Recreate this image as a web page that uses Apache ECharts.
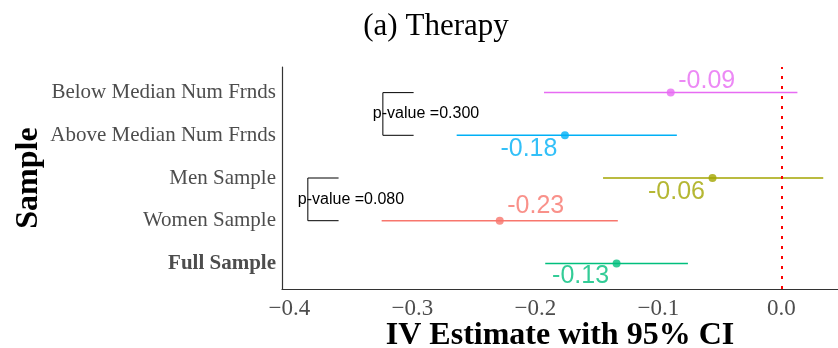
<!DOCTYPE html>
<html>
<head>
<meta charset="utf-8">
<script src="https://cdn.jsdelivr.net/npm/echarts@6/dist/echarts.min.js"></script>
<style>
  html, body { margin: 0; padding: 0; background: #fff; }
  #chart { width: 838px; height: 348px; }
</style>
</head>
<body>
<div id="chart"></div>
<script>
// samples listed bottom to top
const samples = ["Full Sample", "Women Sample", "Men Sample", "Above Median Num Frnds", "Below Median Num Frnds"];
const estimates = [-0.134, -0.229, -0.056, -0.176, -0.090];
const ciLow = [-0.192, -0.325, -0.145, -0.264, -0.193];
const ciHigh = [-0.076, -0.133, 0.034, -0.085, 0.013];
const xTicks = [-0.4, -0.3, -0.2, -0.1, 0.0];
// p-value brackets: which two samples they join, where the bracket sits, the value
const bracketPairs = [[2, 3], [4, 5]];
const bracketX = [-0.385, -0.324];
const pValues = ["0.080", "0.300"];

const colors = ["#00BF7D", "#F8766D", "#A3A500", "#00B0F6", "#E76BF3"];
const labelOffsets = [[-36, 13], [36, -15], [-36, 14], [-36, 14], [36, -12]];

const chart = echarts.init(document.getElementById("chart"));

const option = {
  animation: false,
  title: {
    text: "(a) Therapy",
    left: 431,
    top: 6,
    textAlign: "center",
    textStyle: {
      fontFamily: "Liberation Serif",
      fontWeight: "normal",
      fontSize: 31,
      color: "#000",
    },
  },
  grid: { left: 282, right: 0, top: 67, bottom: 59, outerBoundsMode: "none", containLabel: false },
  xAxis: {
    type: "value",
    min: -0.406,
    max: 0.046,
    name: "IV Estimate with 95% CI",
    nameLocation: "middle",
    nameGap: 31,
    nameMoveOverlap: false,
    nameTextStyle: {
      fontFamily: "Liberation Serif",
      fontWeight: "bold",
      fontSize: 32,
      color: "#000",
    },
    axisLine: { show: true, onZero: false, lineStyle: { color: "#333", width: 1.2 } },
    axisTick: { show: false },
    splitLine: { show: false },
    axisLabel: {
      customValues: xTicks,
      // R prints a true minus sign on the axis
      formatter: (v) => v.toFixed(1).replace("-", "\u2212"),
      fontFamily: "Liberation Serif",
      fontSize: 23,
      color: "#4D4D4D",
      margin: 8,
    },
  },
  yAxis: {
    type: "value",
    min: 0.4,
    max: 5.6,
    name: "Sample",
    nameLocation: "middle",
    nameRotate: 90,
    nameGap: 237,
    nameMoveOverlap: false,
    nameTextStyle: {
      fontFamily: "Liberation Serif",
      fontWeight: "bold",
      fontSize: 32,
      color: "#000",
    },
    axisLine: { show: true, onZero: false, lineStyle: { color: "#333", width: 1.2 } },
    axisTick: { show: false },
    splitLine: { show: false },
    axisLabel: {
      customValues: [1, 2, 3, 4, 5],
      formatter: (v) => {
        const name = samples[Math.round(v) - 1];
        return name === "Full Sample" ? "{b|" + name + "}" : name;
      },
      fontFamily: "Liberation Serif",
      fontSize: 21,
      color: "#4D4D4D",
      margin: 6,
      rich: {
        b: { fontFamily: "Liberation Serif", fontSize: 21, fontWeight: "bold", color: "#4D4D4D" },
      },
    },
  },
  series: [
    {
      // confidence intervals
      type: "custom",
      data: samples.map((s, i) => [ciLow[i], ciHigh[i], i + 1]),
      encode: { x: [0, 1], y: 2 },
      renderItem: (params, api) => {
        const y = api.value(2);
        const p1 = api.coord([api.value(0), y]);
        const p2 = api.coord([api.value(1), y]);
        return {
          type: "line",
          shape: { x1: p1[0], y1: p1[1], x2: p2[0], y2: p2[1] },
          style: { stroke: colors[params.dataIndex], lineWidth: 1.5 },
        };
      },
      z: 2,
    },
    {
      // p-value brackets
      type: "custom",
      data: bracketPairs.map((p, i) => [bracketX[i], bracketX[i] + 0.025, p[0], p[1]]),
      encode: { x: [0, 1], y: [2, 3] },
      renderItem: (params, api) => {
        const a = api.coord([api.value(1), api.value(2)]);
        const b = api.coord([api.value(0), api.value(2)]);
        const c = api.coord([api.value(0), api.value(3)]);
        const d = api.coord([api.value(1), api.value(3)]);
        return {
          type: "group",
          children: [
            {
              type: "polyline",
              shape: { points: [a, b, c, d] },
              style: { stroke: "#000", lineWidth: 1, fill: null },
            },
            {
              type: "text",
              x: b[0] - 10,
              y: (b[1] + c[1]) / 2,
              style: {
                text: "p-value =" + pValues[params.dataIndex],
                fill: "#000",
                font: "16px 'Liberation Sans'",
                align: "left",
                verticalAlign: "middle",
              },
            },
          ],
        };
      },
      z: 3,
    },
    {
      type: "scatter",
      symbolSize: 8,
      data: samples.map((s, i) => ({
        value: [estimates[i], i + 1],
        itemStyle: { color: colors[i] },
        label: { offset: labelOffsets[i], color: colors[i] },
      })),
      label: {
        show: true,
        position: "inside",
        formatter: (p) => p.value[0].toFixed(2),
        fontFamily: "Liberation Sans",
        fontSize: 25,
      },
      markLine: {
        silent: true,
        symbol: ["none", "none"],
        label: { show: false },
        lineStyle: { color: "#FF0000", type: [3, 7], width: 2 },
        data: [{ xAxis: 0 }],
      },
      z: 4,
    },
  ],
};

chart.setOption(option);
</script>
</body>
</html>
